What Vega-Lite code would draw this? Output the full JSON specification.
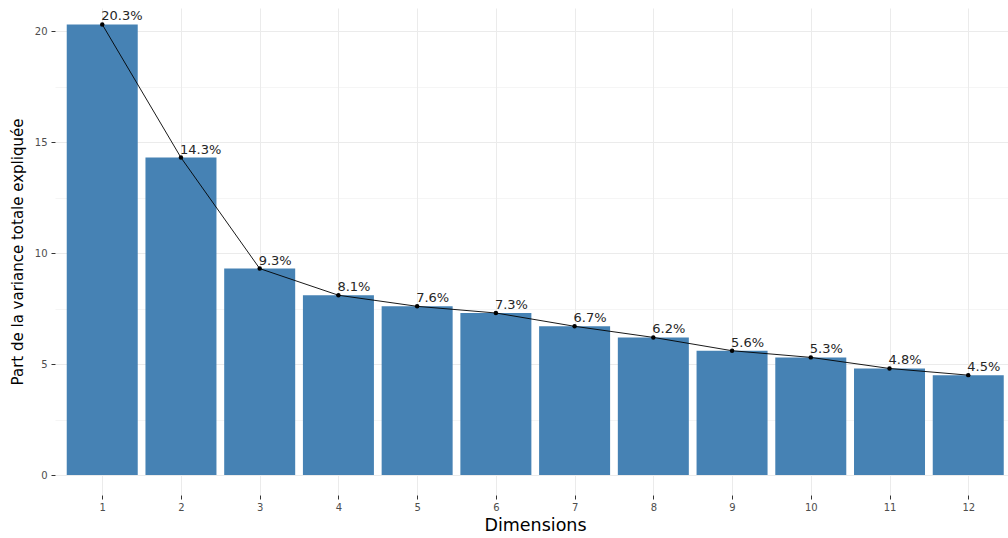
{
  "$schema": "https://vega.github.io/schema/vega-lite/v6.json",
  "width": 953,
  "height": 487,
  "autosize": {"type": "none"},
  "padding": {"left": 55, "top": 8, "right": 0, "bottom": 43},
  "background": "white",
  "config": {"view": {"stroke": null}, "font": "DejaVu Sans"},
  "data": {
    "values": [
      {"dim": 1, "value": 20.3, "label": "20.3%"},
      {"dim": 2, "value": 14.3, "label": "14.3%"},
      {"dim": 3, "value": 9.3, "label": "9.3%"},
      {"dim": 4, "value": 8.1, "label": "8.1%"},
      {"dim": 5, "value": 7.6, "label": "7.6%"},
      {"dim": 6, "value": 7.3, "label": "7.3%"},
      {"dim": 7, "value": 6.7, "label": "6.7%"},
      {"dim": 8, "value": 6.2, "label": "6.2%"},
      {"dim": 9, "value": 5.6, "label": "5.6%"},
      {"dim": 10, "value": 5.3, "label": "5.3%"},
      {"dim": 11, "value": 4.8, "label": "4.8%"},
      {"dim": 12, "value": 4.5, "label": "4.5%"}
    ]
  },
  "encoding": {
    "x": {
      "field": "dim",
      "type": "quantitative",
      "scale": {"domain": [0.4, 12.505], "nice": false, "zero": false, "padding": 0},
      "axis": {
        "values": [1, 2, 3, 4, 5, 6, 7, 8, 9, 10, 11, 12],
        "format": "d",
        "domain": false,
        "grid": true,
        "gridColor": "#ebebeb",
        "gridWidth": 1,
        "tickSize": 4,
        "tickColor": "#333333",
        "labelColor": "#4d4d4d",
        "labelFontSize": 10,
        "labelPadding": 3,
        "title": "Dimensions",
        "titleFontSize": 17.5,
        "titleFontWeight": "normal",
        "titleColor": "#000000",
        "titleX": 480,
        "titleY": 35,
        "titleBaseline": "alphabetic"
      }
    }
  },
  "layer": [
    {
      "mark": {"type": "bar", "width": 71, "color": "#4682B4"},
      "encoding": {
        "y": {
          "field": "value",
          "type": "quantitative",
          "scale": {"domain": [-0.9, 21.04], "nice": false, "zero": false, "padding": 0},
          "axis": {
            "orient": "left",
            "values": [0, 5, 10, 15, 20],
            "domain": false,
            "grid": true,
            "gridColor": "#ebebeb",
            "gridWidth": 1,
            "tickSize": 4,
            "tickColor": "#333333",
            "labelColor": "#4d4d4d",
            "labelFontSize": 10,
            "labelPadding": 4,
            "title": "Part de la variance totale expliquée",
            "titleFontSize": 15,
            "titleFontWeight": "normal",
            "titleColor": "#000000",
            "titleX": -33,
            "titleBaseline": "alphabetic"
          }
        },
        "y2": {"datum": 0}
      }
    },
    {
      "mark": {"type": "line", "color": "#000000", "strokeWidth": 0.9},
      "encoding": {
        "y": {
          "field": "value",
          "type": "quantitative",
          "scale": {"domain": [-0.9, 21.04], "nice": false, "zero": false, "padding": 0},
          "axis": {
            "orient": "right",
            "values": [2.5, 7.5, 12.5, 17.5],
            "grid": true,
            "gridColor": "#ebebeb",
            "gridWidth": 0.5,
            "domain": false,
            "ticks": false,
            "labels": false,
            "title": null
          }
        }
      }
    },
    {
      "mark": {"type": "point", "filled": true, "color": "#000000", "size": 20, "opacity": 1},
      "encoding": {
        "y": {"field": "value", "type": "quantitative", "axis": null}
      }
    },
    {
      "mark": {"type": "text", "align": "left", "baseline": "alphabetic", "dx": -1, "dy": -4, "fontSize": 13, "color": "#262626"},
      "encoding": {
        "y": {"field": "value", "type": "quantitative", "axis": null},
        "text": {"field": "label"}
      }
    }
  ],
  "resolve": {"axis": {"y": "independent"}}
}
